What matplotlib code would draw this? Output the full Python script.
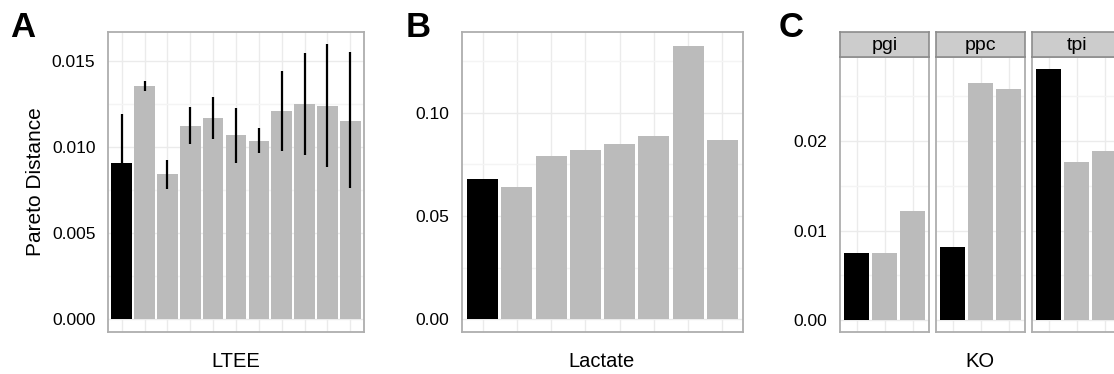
"""Pareto distance bar panels (A: LTEE, B: Lactate, C: KO facets)."""

import matplotlib

matplotlib.use("Agg")
import matplotlib.pyplot as plt
import numpy as np

plt.rcParams["font.family"] = ["Liberation Sans", "DejaVu Sans"]

# panel A - LTEE
ltee_vals = [0.00905, 0.01355, 0.00841, 0.01124, 0.01167, 0.01068,
             0.01037, 0.01211, 0.01250, 0.01238, 0.01153]
ltee_err_hi = [0.01192, 0.01386, 0.00926, 0.01231, 0.01289, 0.01229,
               0.01110, 0.01444, 0.01548, 0.01597, 0.01554]
ltee_err_lo = [0.00618, 0.01327, 0.00756, 0.01017, 0.01045, 0.00909,
               0.00967, 0.00979, 0.00955, 0.00886, 0.00760]

# panel B - Lactate
lactate_vals = [0.0681, 0.0639, 0.0790, 0.0819, 0.0851, 0.0890, 0.1327, 0.0867]

# panel C - KO facets
ko_facets = ["pgi", "ppc", "tpi"]
ko_vals = {
    "pgi": [0.00745, 0.00745, 0.01214],
    "ppc": [0.00819, 0.02652, 0.02585],
    "tpi": [0.02801, 0.01765, 0.01888],
}

W, H = 1114, 374
BAR_GRAY = "#BBBBBB"
GRID = "#EBEBEB"
GRID_MINOR = "#F4F4F4"
BORDER = "#AEAEAE"

fig = plt.figure(figsize=(W / 100, H / 100), dpi=100)


def px_axes(x0, y0, x1, y1):
    """Add axes from pixel box (top-left origin)."""
    return fig.add_axes([x0 / W, (H - y1) / H, (x1 - x0) / W, (y1 - y0) / H])


def style(ax, n, ylim, major, minor, show_labels=True, fmt="{:.3f}"):
    ax.set_xlim(0.4, n + 0.6)
    ax.set_ylim(*ylim)
    ax.set_xticks(np.arange(1, n + 1))
    ax.set_xticklabels([])
    ax.set_yticks(major)
    ax.set_yticks(minor, minor=True)
    if show_labels:
        ax.set_yticklabels([fmt.format(v) for v in major])
    else:
        ax.set_yticklabels([])
    ax.tick_params(axis="both", which="both", length=0, labelsize=12.5, pad=9)
    ax.grid(True, which="major", color=GRID, linewidth=1.0, zorder=0)
    ax.grid(True, which="minor", axis="y", color=GRID_MINOR, linewidth=1.0, zorder=0)
    ax.set_axisbelow(True)
    for s in ax.spines.values():
        s.set_color(BORDER)
        s.set_linewidth(1.3)


def draw_bars(ax, vals):
    x = np.arange(1, len(vals) + 1)
    colors = ["black"] + [BAR_GRAY] * (len(vals) - 1)
    ax.bar(x, vals, width=0.9, color=colors, zorder=2)
    return x


def fig_label(x, y, s, **kw):
    fig.text(x / W, 1 - y / H, s, **kw)


# ---- panel A
axA = px_axes(108, 32, 364, 332)
xA = draw_bars(axA, ltee_vals)
axA.vlines(xA, ltee_err_lo, ltee_err_hi, color="black", linewidth=1.6, zorder=3)
style(axA, len(ltee_vals), (-0.00076, 0.01669),
      [0, 0.005, 0.010, 0.015], [0.0025, 0.0075, 0.0125])
axA.set_ylabel("Pareto Distance", fontsize=15, labelpad=5)
fig_label(236, 367, "LTEE", fontsize=14.5, ha="center", va="baseline")
fig_label(10, 37, "A", fontsize=25, fontweight="bold")

# ---- panel B
axB = px_axes(462, 32, 743, 332)
draw_bars(axB, lactate_vals)
style(axB, len(lactate_vals), (-0.0063, 0.1393),
      [0, 0.05, 0.10], [0.025, 0.075, 0.125], fmt="{:.2f}")
fig_label(602, 367, "Lactate", fontsize=14.5, ha="center", va="baseline")
fig_label(406, 37, "B", fontsize=25, fontweight="bold")

# ---- panel C (facets)
facet_x = [(840, 929.3), (936, 1025.3), (1032, 1121.3)]
for i, name in enumerate(ko_facets):
    x0, x1 = facet_x[i]
    ax = px_axes(x0, 57, x1, 332)
    draw_bars(ax, ko_vals[name])
    style(ax, 3, (-0.00134, 0.02939), [0, 0.01, 0.02],
          [0.005, 0.015, 0.025], show_labels=(i == 0), fmt="{:.2f}")
    strip = px_axes(x0, 32, x1, 57)
    strip.set_facecolor("#CCCCCC")
    strip.set_xticks([])
    strip.set_yticks([])
    for s in strip.spines.values():
        s.set_color("#8C8C8C")
        s.set_linewidth(1.2)
    strip.text(0.5, 0.45, name, ha="center", va="center", fontsize=14,
               transform=strip.transAxes)

fig_label(980, 367, "KO", fontsize=14.5, ha="center", va="baseline")
fig_label(779, 37, "C", fontsize=25, fontweight="bold")

fig.savefig("out.png", dpi=100)
